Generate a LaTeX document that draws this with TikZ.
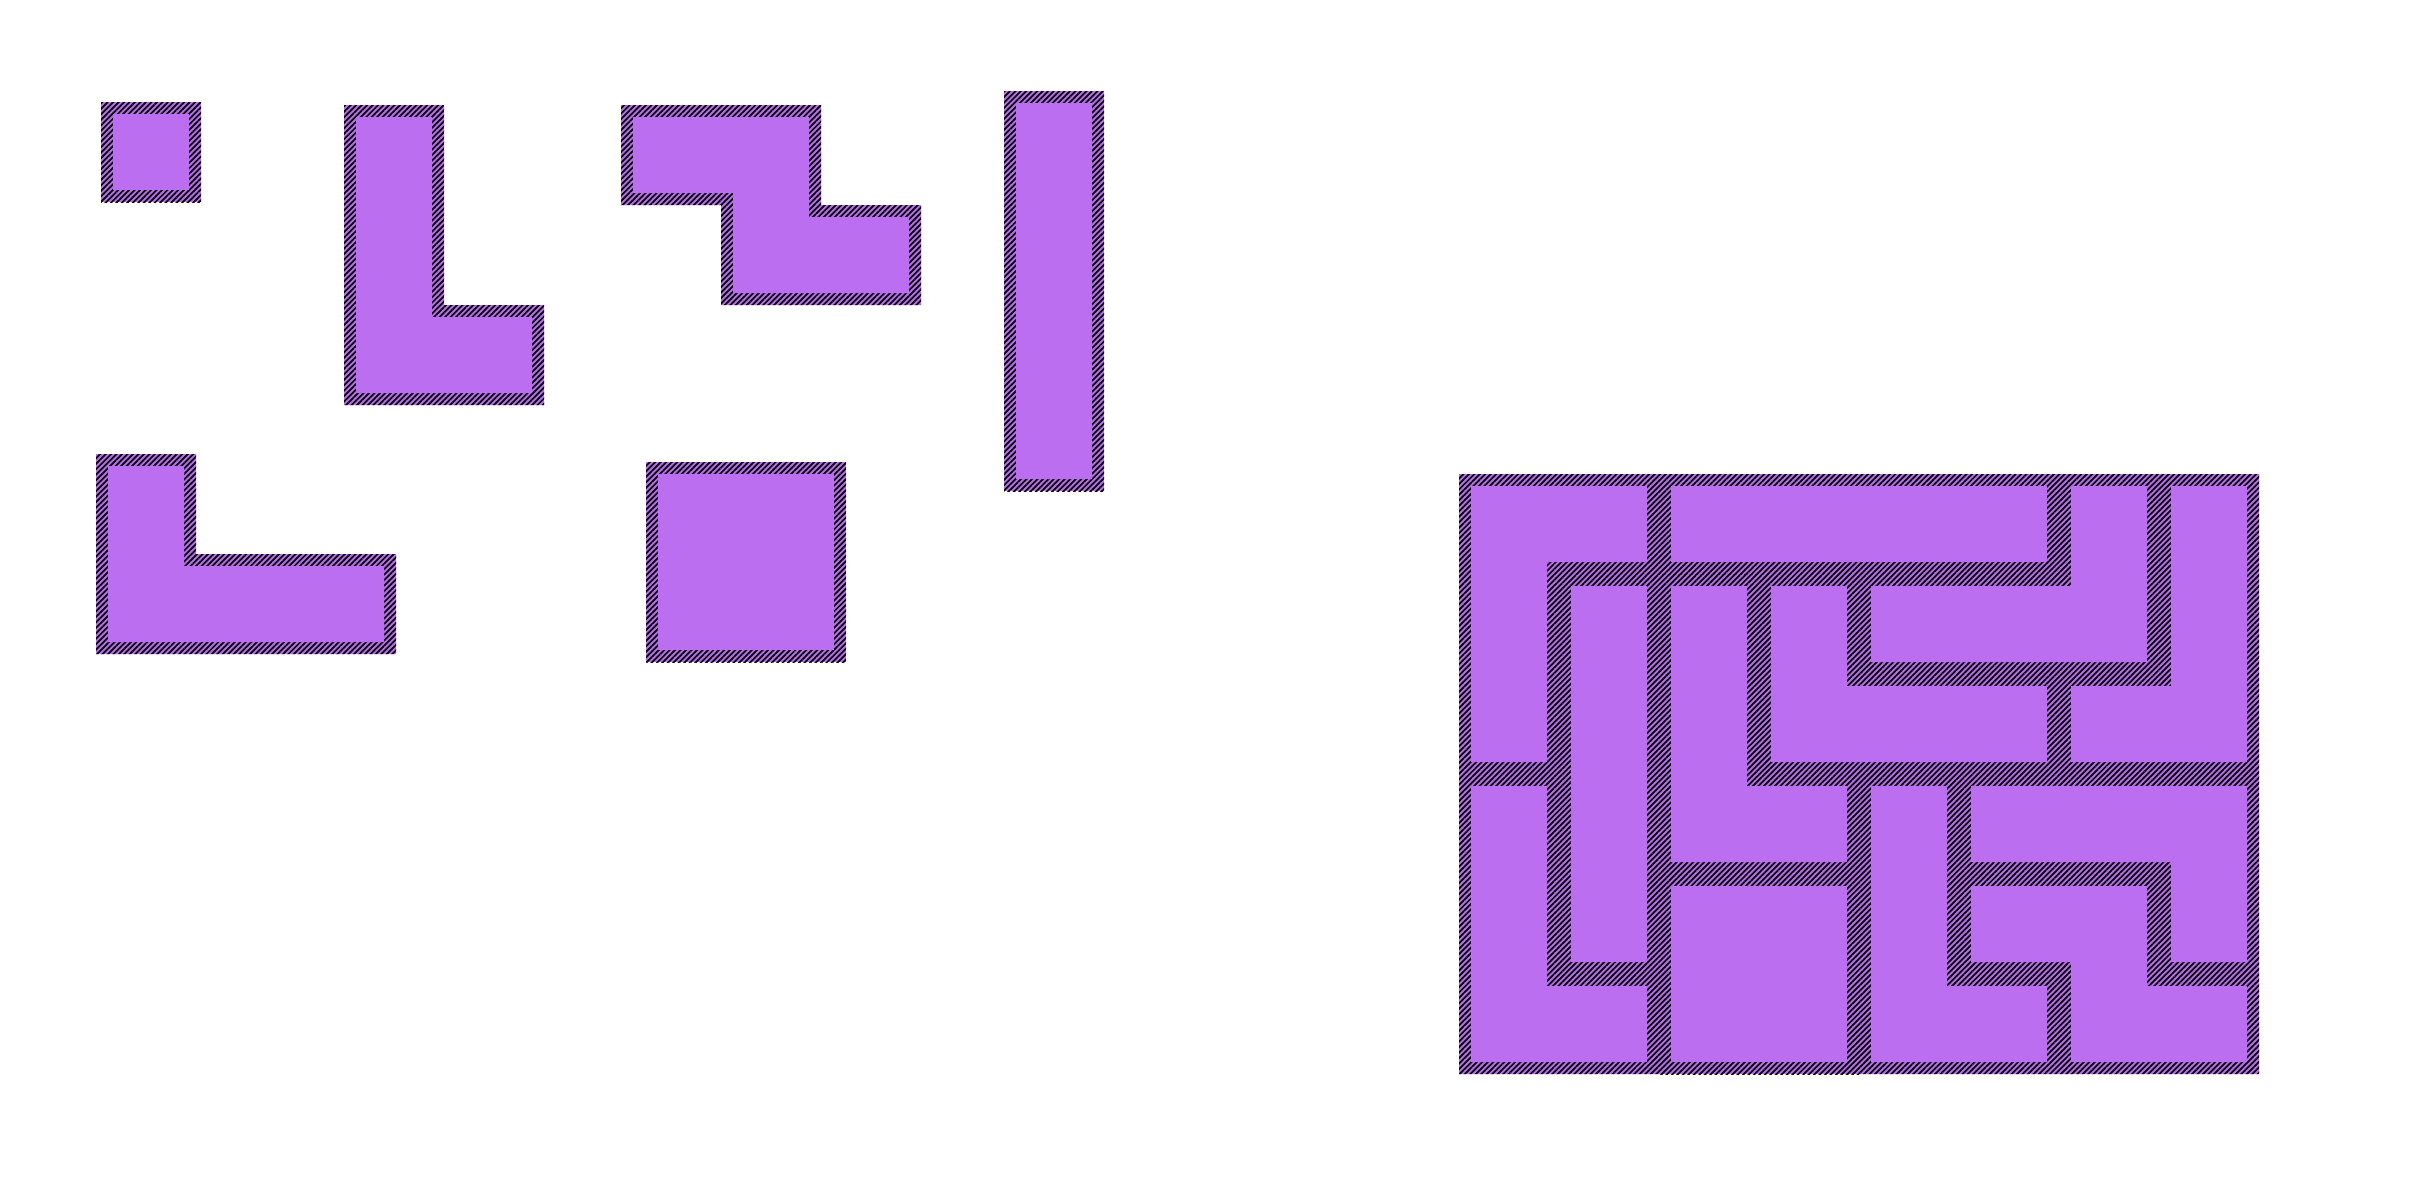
\documentclass[tikz,border=0pt]{standalone}
\usepackage{tikz}
\usetikzlibrary{patterns.meta}
\definecolor{lilac}{HTML}{BB6EF0}

\begin{document}
\begin{tikzpicture}[x=1cm,y=-1cm,
  piece/.style={preaction={fill=lilac},pattern={Lines[angle=45,distance=1.1pt,line width=0.5pt]},
    pattern color=black},
  core/.style={fill=lilac}]
\useasboundingbox (0,0) rectangle (24.09,11.94);
% loose pieces
\begin{scope}[shift={(1.01,1.02)}]
\path[piece] (0,0) rectangle (1,1);
\path[core] (.12,.12) rectangle (.88,.88);
\end{scope}
\begin{scope}[shift={(3.44,1.05)}]
\path[piece] (0,0)--(1,0)--(1,2)--(2,2)--(2,3)--(0,3)--cycle;
\path[core] (.12,.12)--(.88,.12)--(.88,2.12)--(1.88,2.12)--(1.88,2.88)--(.12,2.88)--cycle;
\end{scope}
\begin{scope}[shift={(6.21,1.05)}]
\path[piece] (0,0)--(2,0)--(2,1)--(3,1)--(3,2)--(1,2)--(1,1)--(0,1)--cycle;
\path[core] (.12,.12)--(1.88,.12)--(1.88,1.12)--(2.88,1.12)--(2.88,1.88)--(1.12,1.88)--(1.12,.88)--(.12,.88)--cycle;
\end{scope}
\begin{scope}[shift={(10.04,0.91)}]
\path[piece] (0,0) rectangle (1,4);
\path[core] (.12,.12) rectangle (.88,3.88);
\end{scope}
\begin{scope}[shift={(0.96,4.54)}]
\path[piece] (0,0)--(1,0)--(1,1)--(3,1)--(3,2)--(0,2)--cycle;
\path[core] (.12,.12)--(.88,.12)--(.88,1.12)--(2.88,1.12)--(2.88,1.88)--(.12,1.88)--cycle;
\end{scope}
\begin{scope}[shift={(6.46,4.62)}]
\path[piece] (0,0) rectangle (2,2);
\path[core] (.12,.12) rectangle (1.88,1.88);
\end{scope}
% the 8x6 board
\begin{scope}[shift={(14.59,4.74)}]
\path[piece] (0,0)--(2,0)--(2,1)--(1,1)--(1,3)--(0,3)--cycle;
\path[core] (.12,.12)--(1.88,.12)--(1.88,.88)--(.88,.88)--(.88,2.88)--(.12,2.88)--cycle;
\path[piece] (1,1) rectangle (2,5);
\path[core] (1.12,1.12) rectangle (1.88,4.88);
\path[piece] (0,3)--(1,3)--(1,5)--(2,5)--(2,6)--(0,6)--cycle;
\path[core] (.12,3.12)--(.88,3.12)--(.88,5.12)--(1.88,5.12)--(1.88,5.88)--(.12,5.88)--cycle;
\path[piece] (2,1)--(3,1)--(3,3)--(4,3)--(4,4)--(2,4)--cycle;
\path[core] (2.12,1.12)--(2.88,1.12)--(2.88,3.12)--(3.88,3.12)--(3.88,3.88)--(2.12,3.88)--cycle;
\path[piece] (2,4) rectangle (4,6);
\path[core] (2.12,4.12) rectangle (3.88,5.88);
\path[piece] (2,0) rectangle (6,1);
\path[core] (2.12,.12) rectangle (5.88,.88);
\path[piece] (6,0)--(7,0)--(7,2)--(4,2)--(4,1)--(6,1)--cycle;
\path[core] (6.12,.12)--(6.88,.12)--(6.88,1.88)--(4.12,1.88)--(4.12,1.12)--(6.12,1.12)--cycle;
\path[piece] (7,0)--(8,0)--(8,3)--(6,3)--(6,2)--(7,2)--cycle;
\path[core] (7.12,.12)--(7.88,.12)--(7.88,2.88)--(6.12,2.88)--(6.12,2.12)--(7.12,2.12)--cycle;
\path[piece] (3,1)--(4,1)--(4,2)--(6,2)--(6,3)--(3,3)--cycle;
\path[core] (3.12,1.12)--(3.88,1.12)--(3.88,2.12)--(5.88,2.12)--(5.88,2.88)--(3.12,2.88)--cycle;
\path[piece] (4,3)--(5,3)--(5,5)--(6,5)--(6,6)--(4,6)--cycle;
\path[core] (4.12,3.12)--(4.88,3.12)--(4.88,5.12)--(5.88,5.12)--(5.88,5.88)--(4.12,5.88)--cycle;
\path[piece] (5,3)--(8,3)--(8,5)--(7,5)--(7,4)--(5,4)--cycle;
\path[core] (5.12,3.12)--(7.88,3.12)--(7.88,4.88)--(7.12,4.88)--(7.12,3.88)--(5.12,3.88)--cycle;
\path[piece] (5,4)--(7,4)--(7,5)--(8,5)--(8,6)--(6,6)--(6,5)--(5,5)--cycle;
\path[core] (5.12,4.12)--(6.88,4.12)--(6.88,5.12)--(7.88,5.12)--(7.88,5.88)--(6.12,5.88)--(6.12,4.88)--(5.12,4.88)--cycle;
\end{scope}
\end{tikzpicture}
\end{document}
